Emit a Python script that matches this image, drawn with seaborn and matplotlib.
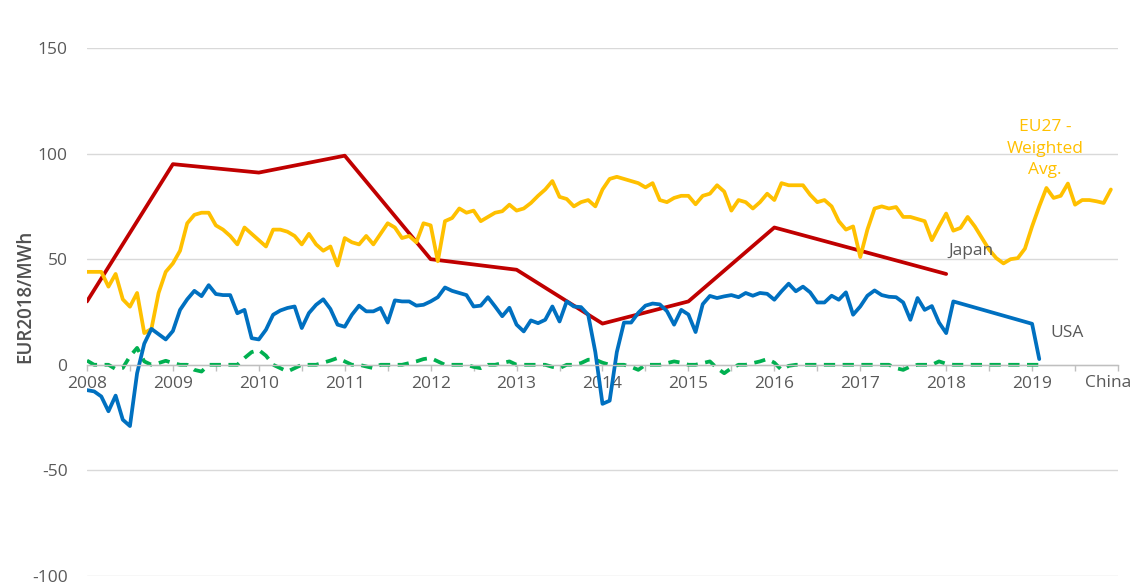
import matplotlib
matplotlib.use("Agg")
import numpy as np
import pandas as pd
import matplotlib.pyplot as plt
import seaborn as sns

# Monthly values, EUR2018/MWh
eu_2008 = [44, 44, 44, 37, 43, 31, 27.5, 34, 15, 17, 34, 44]
eu_2009 = [48, 54, 67, 71, 72, 72, 66, 64, 61, 57, 65, 62]
eu_2010 = [59, 56, 64, 64, 63, 61, 57, 62, 57, 54, 56, 47]
eu_2011 = [60, 58, 57, 61, 57, 62, 67, 65, 60, 61, 58, 67]
eu_2012 = [66, 49, 68, 69.5, 74, 72, 73, 68, 70, 72, 72.7, 75.8]
eu_2013 = [73, 74, 76.6, 80, 83, 87, 79.5, 78.5, 75, 77, 78, 75]
eu_2014 = [83, 88, 89, 88, 87, 86, 84, 86, 78, 77, 79, 80]
eu_2015 = [80, 76, 80, 81, 85, 82, 73, 78, 77, 74, 77, 81]
eu_2016 = [78, 86, 85, 85, 85, 80.5, 77, 78, 75, 68, 64, 65.5]
eu_2017 = [51, 64, 74, 75, 74, 74.7, 70, 70, 69, 68, 59, 65.5]
eu_2018 = [71.6, 63.5, 64.8, 70, 65.5, 60, 54.5, 50.5, 48, 50, 50.5, 55]
eu_2019 = [65.5, 75, 83.7, 79, 80, 85.8, 75.8, 78, 78, 77.4, 76.6, 83]

usa_2008 = [-12, -12.6, -15, -22, -14.6, -26, -29, -4, 10, 17, 14.5, 12]
usa_2009 = [16, 26, 31, 35, 32.5, 37.7, 33.5, 33, 33, 24.4, 26, 12.6]
usa_2010 = [12, 16.6, 23.7, 25.7, 26.9, 27.6, 17.4, 24.5, 28.4, 31, 26.4, 19]
usa_2011 = [18, 23.7, 28, 25.3, 25.3, 26.9, 20, 30.5, 30, 30, 28, 28.4]
usa_2012 = [30, 32, 36.6, 35, 34, 33, 27.6, 28, 32, 27.6, 23, 27]
usa_2013 = [19, 15.8, 21, 19.7, 21.3, 27.6, 20.5, 30, 27.6, 27.3, 23.7, 6]
usa_2014 = [-18.5, -17, 6, 20, 20, 24.6, 28, 29, 28.6, 25.4, 19, 26]
usa_2015 = [23.8, 15.5, 28.7, 32.6, 31.6, 32.4, 33, 32, 34, 32.7, 34, 33.6]
usa_2016 = [30.8, 34.8, 38.4, 34.8, 37, 34.3, 29.5, 29.5, 32.7, 30.8, 34.3, 23.7]
usa_2017 = [27.6, 32.7, 35.2, 33, 32.2, 32, 29.5, 21.3, 31.6, 26, 27.8, 20]
usa_2018 = [15, 30] + [None] * 10   # gap Mar-Dec 2018
usa_2019 = [19.4, 2.7]

china_2008 = [2, 0, 0, 0, -2, -1.5, 4, 8, 1.6, 0, 0.8, 1.9]
china_2009 = [0.8, 0, 0, -2.4, -3.2, 0, 0, 0, 0, 0, 3.2, 6]
china_2010 = [7, 4.3, 0, -1.6, -3.2, -1.6, 0, 0, 0, 1, 2, 3.2]
china_2011 = [1.6, 0, 0, -0.8, -1.6, 0, 0, 0, 0, 0.8, 1.6, 2.7]
china_2012 = [3.2, 1.6, 0, 0, 0, 0, -1, -1.6, 0, 0, 0.8, 1.6]
china_2013 = [0, 0, 0, 0, 0, -1, -1.6, 0, 0, 0.8, 2.4, 2.4]
china_2014 = [1, 0, 0, 0, -1, -2.4, 0, 0, 0, 0.8, 1.6, 1]
china_2015 = [0, 0, 0.8, 1.6, -1.6, -4, -1.6, 0, 0, 0.8, 1.6, 2.7]
china_2016 = [1, -2.4, -0.5, 0, 0, 0, 0, 0, 0, 0, 0, 0]
china_2017 = [0, 0, 0, 0, 0, -1.6, -2.4, -0.8, 0, 0, 0, 1.6]
china_2018 = [0.5, 0, 0, 0, 0, 0, 0, 0, 0, 0, 0, 0]
china_2019 = [0, 0]

# Japan is yearly, no 2017 value
japan_years = [2008, 2009, 2010, 2011, 2012, 2013, 2014, 2015, 2016, 2017, 2018]
japan_values = [30, 95, 91, 99, 50, 45, 19.5, 30, 65, None, 43]

year_labels = [str(y) for y in range(2008, 2020)]

EU_COLOR = "#FFC000"
JAPAN_COLOR = "#C00000"
USA_COLOR = "#0070C0"
CHINA_COLOR = "#00B050"
TEXT_COLOR = "#595959"


def monthly_frame(by_year, start_year=2008):
    """Flatten per-year monthly lists into a frame with fractional years."""
    rows = []
    for i, vals in enumerate(by_year):
        for m, v in enumerate(vals):
            if v is not None:
                rows.append((start_year + i + m / 12, v))
    return pd.DataFrame(rows, columns=["year", "value"])


eu = monthly_frame([eu_2008, eu_2009, eu_2010, eu_2011, eu_2012, eu_2013,
                    eu_2014, eu_2015, eu_2016, eu_2017, eu_2018, eu_2019])
usa = monthly_frame([usa_2008, usa_2009, usa_2010, usa_2011, usa_2012, usa_2013,
                     usa_2014, usa_2015, usa_2016, usa_2017, usa_2018, usa_2019])
china = monthly_frame([china_2008, china_2009, china_2010, china_2011, china_2012,
                       china_2013, china_2014, china_2015, china_2016, china_2017,
                       china_2018, china_2019])
japan = pd.DataFrame({"year": japan_years, "value": japan_values}).dropna()

sns.set_style("white")
plt.rcParams["font.family"] = ["Open Sans", "DejaVu Sans"]
plt.rcParams["axes.unicode_minus"] = False

fig = plt.figure(figsize=(11.34, 5.85), dpi=100)
ax = fig.add_axes([0.0767, 0.0154, 0.9092, 0.9026])

lw = 2.7
sns.lineplot(data=japan, x="year", y="value", color=JAPAN_COLOR, linewidth=lw,
             errorbar=None, ax=ax)
sns.lineplot(data=eu, x="year", y="value", color=EU_COLOR, linewidth=lw,
             errorbar=None, ax=ax)
sns.lineplot(data=china, x="year", y="value", color=CHINA_COLOR, linewidth=lw,
             errorbar=None, ax=ax)
ax.lines[-1].set_linestyle((0, (3, 2)))
sns.lineplot(data=usa, x="year", y="value", color=USA_COLOR, linewidth=lw,
             errorbar=None, ax=ax)

ax.set_xlim(2008, 2020)
ax.set_ylim(-100, 150)
ax.set_yticks([-100, -50, 0, 50, 100, 150])
ax.yaxis.grid(True, color="#D9D9D9", linewidth=1)
ax.set_axisbelow(True)

ax.set_xticks(range(2008, 2020))
ax.set_xticklabels(year_labels)
ax.set_xticks(np.arange(2008, 2020.1, 0.5), minor=True)

for side in ["top", "right", "left"]:
    ax.spines[side].set_visible(False)
ax.spines["bottom"].set_position(("data", 0))
ax.spines["bottom"].set_color("#BFBFBF")
ax.spines["bottom"].set_linewidth(1)

ax.tick_params(axis="x", which="both", direction="out", length=4, color="#BFBFBF",
               width=1, bottom=True)
ax.tick_params(axis="x", which="major", pad=4, labelsize=12.5, labelcolor=TEXT_COLOR)
ax.tick_params(axis="y", length=0, pad=14, labelsize=12.5, labelcolor=TEXT_COLOR)

ax.set_xlabel("")
ax.set_ylabel("EUR2018/MWh", fontsize=13.5, fontweight="semibold", color="#505050")
ax.yaxis.set_label_coords(-0.05, 0.53)

ax.text(2019.15, 102.4, "EU27 -\nWeighted\nAvg.", color=EU_COLOR, fontsize=12.5,
        ha="center", va="center", linespacing=1.42)
ax.text(2018.29, 54, "Japan", color=TEXT_COLOR, fontsize=12.5, ha="center", va="center")
ax.text(2019.41, 15.2, "USA", color=TEXT_COLOR, fontsize=12.5, ha="center", va="center")
ax.text(2019.89, -8.5, "China", color=TEXT_COLOR, fontsize=12.5, ha="center",
        va="center", clip_on=False)

fig.savefig("out.png", dpi=100)
